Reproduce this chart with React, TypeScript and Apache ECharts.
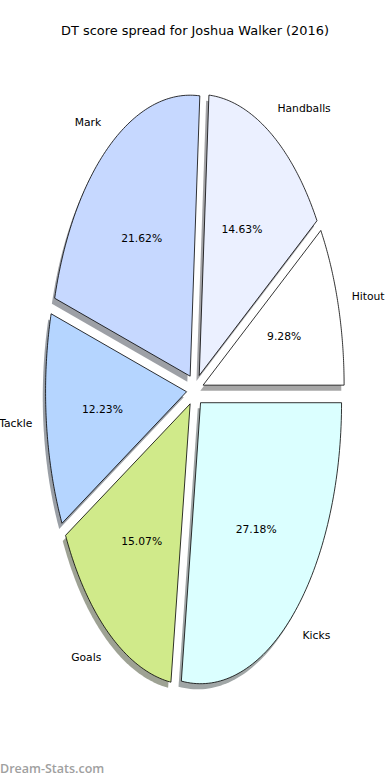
import React, { useEffect, useRef } from "react";
import * as echarts from "echarts";

const categories = ["Hitout", "Handballs", "Mark", "Tackle", "Goals", "Kicks"];
const shares = [9.28, 14.63, 21.62, 12.23, 15.07, 27.18];
const sliceColors = ["#ffffff", "#ebf0ff", "#c6d8ff", "#b5d5ff", "#d0ea8a", "#dbffff"];
const titleText = "DT score spread for Joshua Walker (2016)";
const watermark = "Dream-Stats.com";

function darken(hex: string, f: number) {
  const n = parseInt(hex.slice(1), 16);
  const r = Math.round(((n >> 16) & 255) * f);
  const g = Math.round(((n >> 8) & 255) * f);
  const b = Math.round((n & 255) * f);
  return `rgba(${r},${g},${b},0.5)`;
}

export default function App() {
  const ref = useRef<HTMLDivElement>(null);
  useEffect(() => {
    document.body.style.margin = "0";
    const chart = echarts.init(ref.current!, null, { renderer: "svg" });
    const total = shares.reduce((a, b) => a + b, 0);
    const RX = 141;
    const RY = 281;
    const EXPLODE = 0.06;
    const font = "10.75px 'DejaVu Sans'";
    chart.setOption({
      animation: false,
      backgroundColor: "#ffffff",
      title: {
        text: titleText,
        left: "center",
        top: 19,
        textStyle: { fontSize: 12.9, fontWeight: "normal", color: "#000", fontFamily: "DejaVu Sans" },
      },
      graphic: [
        {
          type: "text",
          left: 0,
          top: 762,
          style: { text: watermark, font: "600 12.5px 'Open Sans'", fill: "#a0a0a0" },
        },
      ],
      series: [
        {
          type: "custom",
          coordinateSystem: "none",
          data: shares.map((v, i) => ({ value: v, name: categories[i] })),
          renderItem: (params: any, api: any) => {
            const i = params.dataIndex;
            const W = api.getWidth();
            const H = api.getHeight();
            const cx0 = W / 2;
            const cy0 = H / 2;
            let before = 0;
            for (let k = 0; k < i; k++) before += shares[k];
            const v = api.value(0);
            const a0 = (before / total) * Math.PI * 2;
            const a1 = ((before + v) / total) * Math.PI * 2;
            const am = (a0 + a1) / 2;
            const cx = cx0 + EXPLODE * RX * Math.cos(am);
            const cy = cy0 - EXPLODE * RY * Math.sin(am);
            const pts: number[][] = [[cx, cy]];
            const steps = 80;
            for (let s = 0; s <= steps; s++) {
              const a = a0 + ((a1 - a0) * s) / steps;
              pts.push([cx + RX * Math.cos(a), cy - RY * Math.sin(a)]);
            }
            const shadowPts = pts.map((p) => [p[0] - 0.02 * RX, p[1] + 0.02 * RY]);
            const lx = cx + 1.1 * RX * Math.cos(am);
            const ly = cy - 1.1 * RY * Math.sin(am);
            const px = cx + 0.6 * RX * Math.cos(am);
            const py = cy - 0.6 * RY * Math.sin(am);
            const alignName = Math.cos(am) > 0 ? "left" : "right";
            return {
              type: "group",
              children: [
                {
                  type: "polygon",
                  z2: 1,
                  shape: { points: shadowPts },
                  style: { fill: darken(sliceColors[i], 0.3), stroke: "none" },
                },
                {
                  type: "polygon",
                  z2: 10,
                  shape: { points: pts },
                  style: { fill: sliceColors[i], stroke: "#000", lineWidth: 0.8 },
                },
                {
                  type: "text",
                  z2: 20,
                  style: {
                    text: `${v.toFixed(2)}%`,
                    x: px,
                    y: py,
                    align: "center",
                    verticalAlign: "middle",
                    textAlign: "center",
                    textVerticalAlign: "middle",
                    font,
                    fill: "#000",
                  },
                },
                {
                  type: "text",
                  z2: 20,
                  style: {
                    text: categories[i],
                    x: lx,
                    y: ly,
                    align: alignName,
                    verticalAlign: "middle",
                    textAlign: alignName,
                    textVerticalAlign: "middle",
                    font,
                    fill: "#000",
                  },
                },
              ],
            };
          },
        },
      ],
    });
    return () => chart.dispose();
  }, []);
  return <div ref={ref} style={{ width: 390, height: 780 }} />;
}
